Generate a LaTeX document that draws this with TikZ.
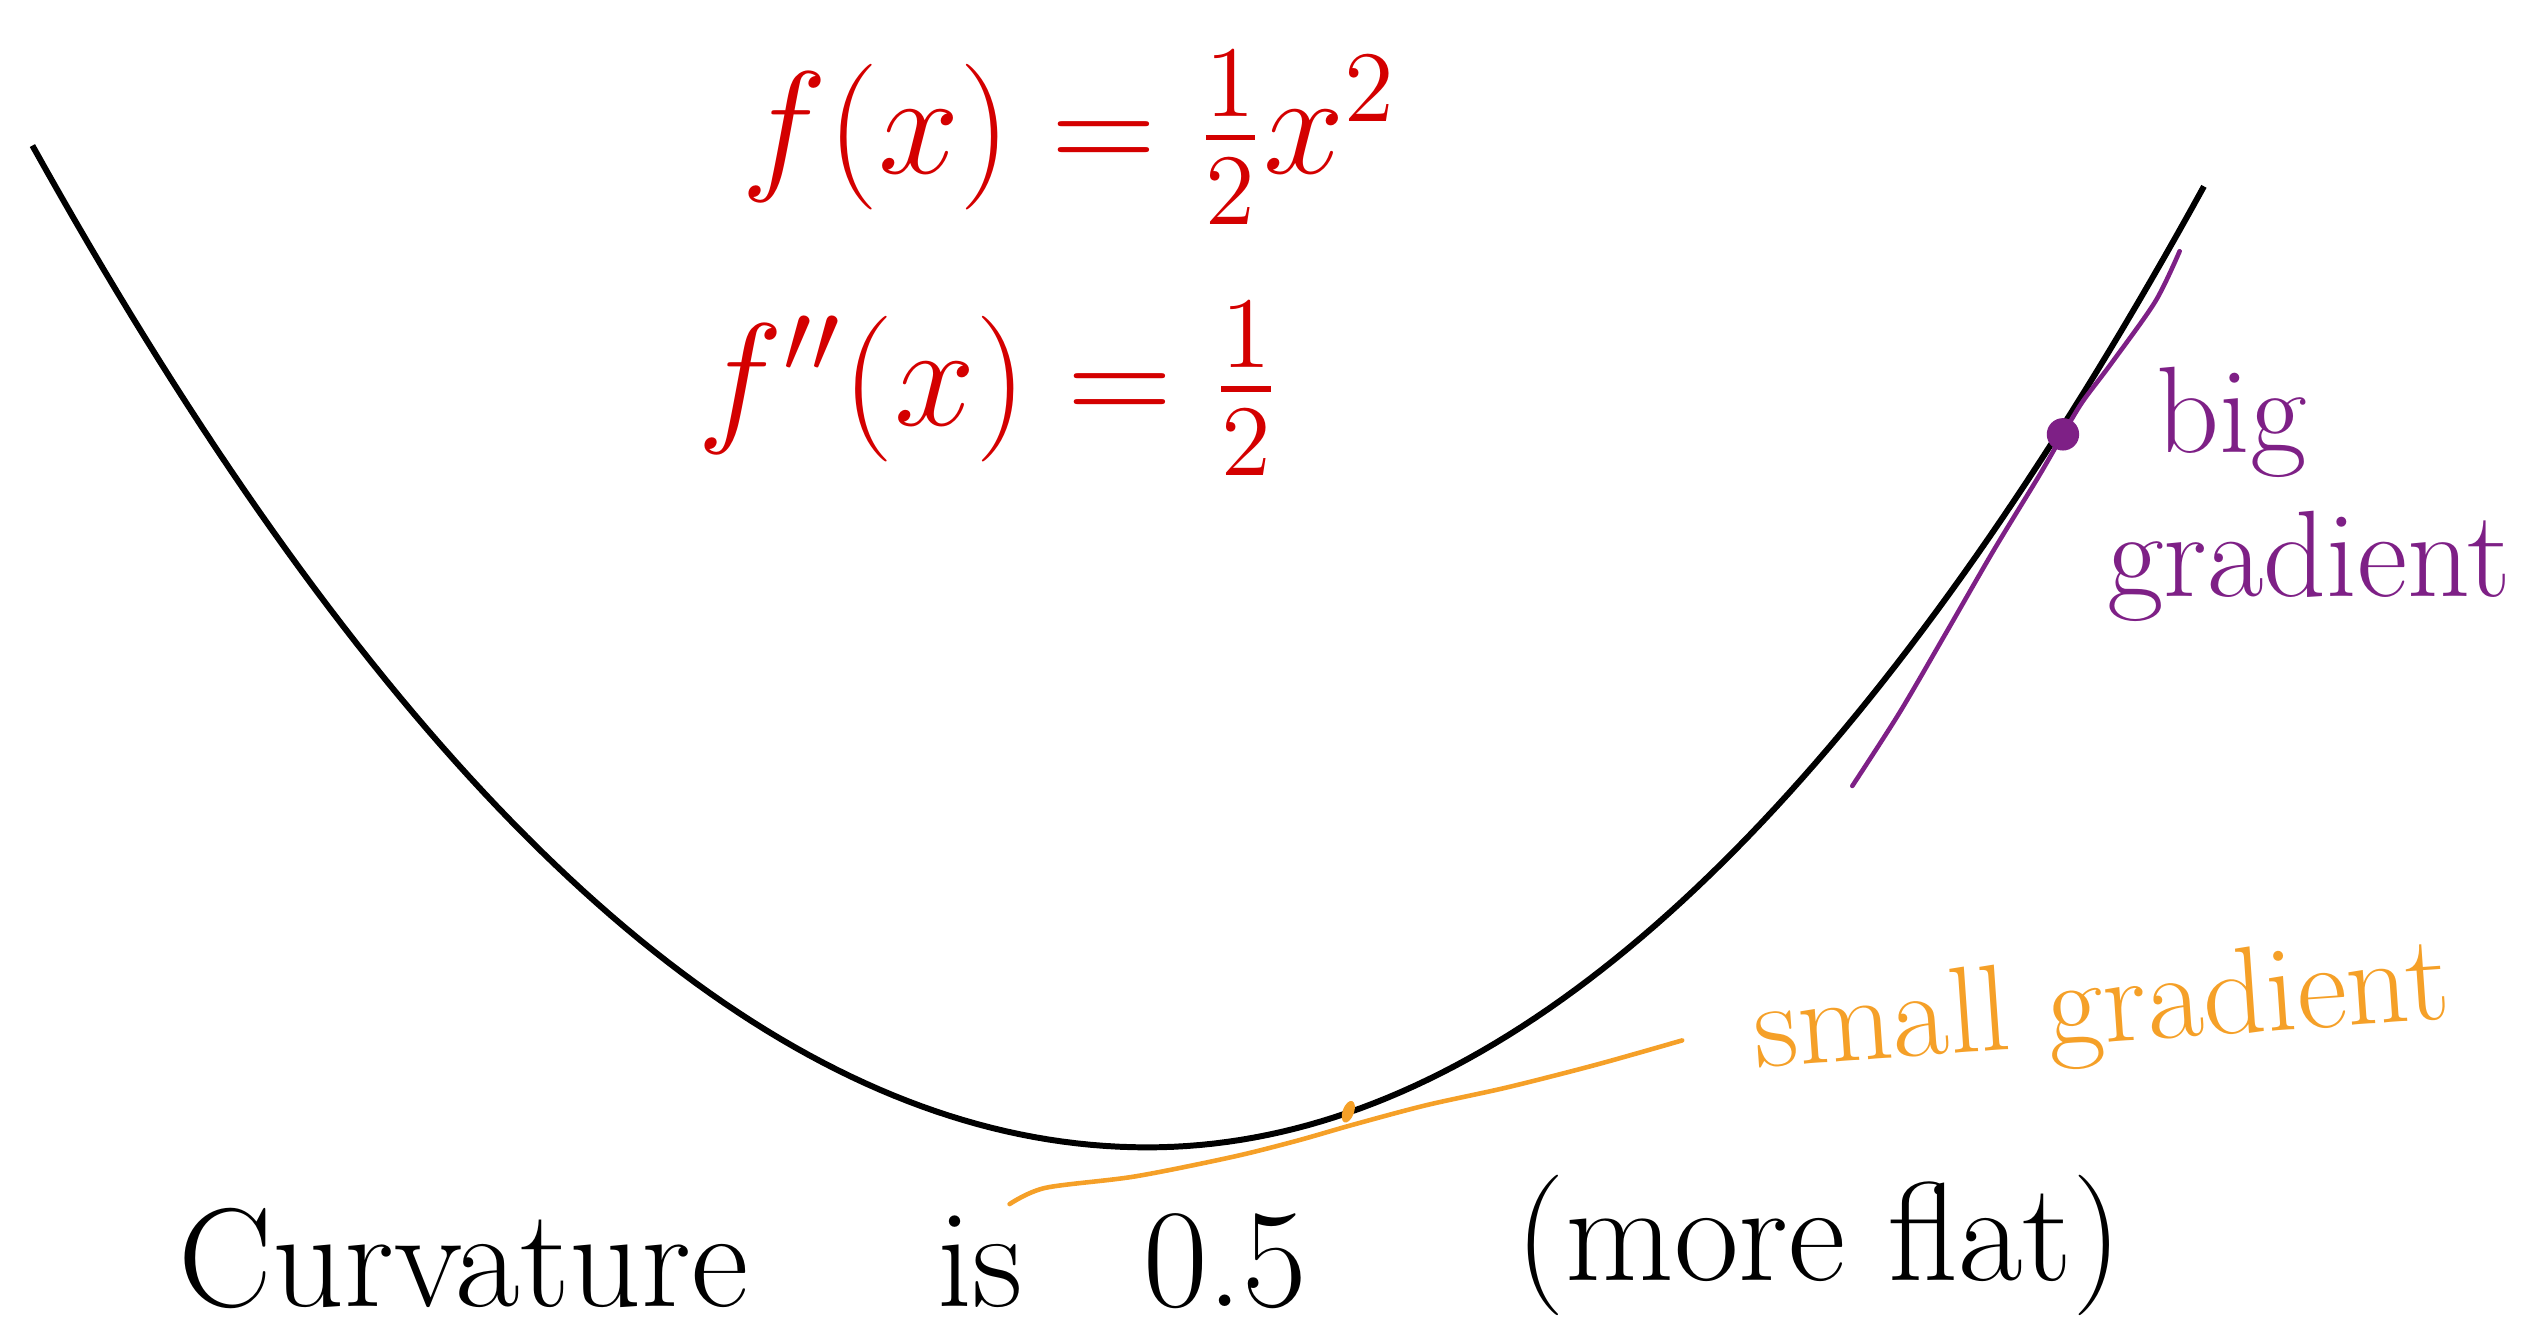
\documentclass[tikz,border=0pt]{standalone}
\usepackage{amsmath}
\usepackage{graphicx}
\usepackage{tikz}
\definecolor{penred}{RGB}{212,0,0}
\definecolor{penpurple}{RGB}{126,32,134}
\definecolor{penorange}{RGB}{245,160,40}
\newcommand{\bigmath}[1]{\scalebox{2.0}{\huge $#1$}}
\newcommand{\midsz}{\fontsize{35}{41}\selectfont}
\newcommand{\lowsz}{\fontsize{40}{48}\selectfont}

\begin{document}
\begin{tikzpicture}[x=0.016205cm,y=-0.016205cm,every node/.style={inner sep=0pt}]
    \useasboundingbox (0,0) rectangle (1568,822);

    % the curve
    \draw[line width=1.7pt, line join=round]
        plot[domain=20:708, samples=80] (\x,{708-13.06*((\x-708)/100)^2})
        -- plot[domain=708:1360, samples=80] (\x,{708-13.95*((\x-708)/100)^2});

    \node[penred] (1) at (660,85) {\bigmath{f(x) = \frac{1}{2}x^2}};
    \node[penred] (2) at (610,240) {\bigmath{f''(x) = \frac{1}{2}}};

    % steep point
    \coordinate (p) at (1273,268);
    \draw[penpurple, line width=1.3pt, line cap=round] plot[smooth] coordinates
        {(1345,155) (1330,186) (1303,224) (1285,248) (p) (1258,294) (1230,340) (1200,392) (1172,440) (1143,485)};
    \fill[penpurple] (p) circle[radius=10];
    \node[penpurple,font=\midsz,align=left,anchor=west] (3) at (1300,305) {\hspace*{0.4em}big\\gradient};

    % flat point
    \coordinate (q) at (832,686);
    \draw[penorange, line width=1.3pt, line cap=round] plot[smooth] coordinates
        {(623,743) (645,733) (700,726) (760,714) (800,704) (835,694) (880,682) (930,671) (985,657) (1038,642)};
    \fill[penorange, rotate around={-20:(q)}] (q) ellipse[x radius=3.5, y radius=7];
    \node[penorange,font=\midsz,rotate=4] (4) at (1297,625) {small gradient};

    \node[font=\lowsz, anchor=base west] (5) at (110,806) {Curvature};
    \node[font=\lowsz, anchor=base west] (6) at (578,806) {is};
    \node[font=\lowsz, anchor=base west] (7) at (705,806) {0.5};
    \node[font=\lowsz, anchor=base west] (8) at (935,790) {(more flat)};
\end{tikzpicture}
\end{document}
